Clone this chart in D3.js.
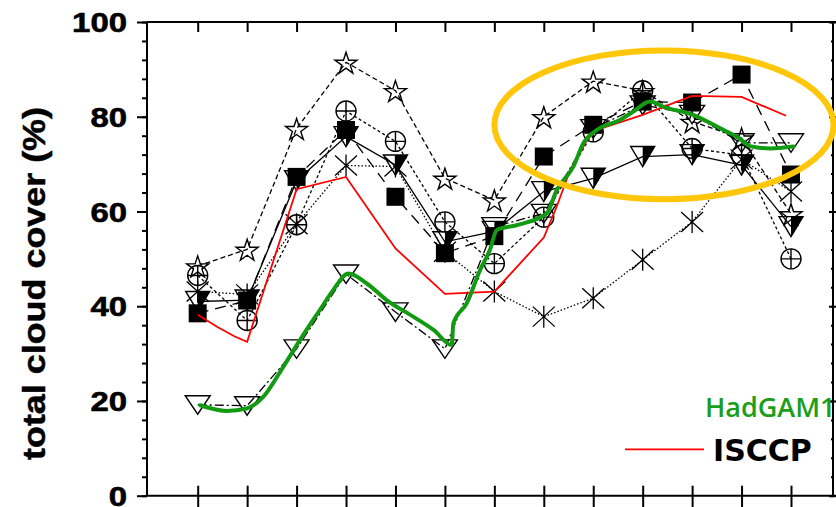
<!DOCTYPE html>
<html><head><meta charset="utf-8">
<script src="https://cdn.jsdelivr.net/npm/d3@7"></script>
<style>body{margin:0;background:#fff;} svg{display:block;}</style>
</head><body><svg id="c" width="836" height="507"></svg>
<script>
// ---------------- data ----------------
const xIndex = d3.range(13);
const yTicks = [0, 20, 40, 60, 80, 100];
const yMinorTicks = d3.range(0, 101, 4);

const starVals     = [48.5, 52, 77.5, 91.5, 85.5, 67, 62.4, 80, 87.5, 85.5, 79, 75.5, 59.5];
const oplusVals    = [46.5, 37, 57.2, 81.2, 74.8, 57.8, 49, 58.8, 76.8, 85.5, 73.3, 71.9, 50];
const squareVals   = [38.5, 41.2, 67.3, 77.2, 63.1, 51.2, 54.8, 71.6, 78.3, 83.2, 83, 88.9, 67.8];
const halfTriVals  = [41, 41.3, 66.5, 75.8, 69.8, 53.6, 55.8, 64.2, 67, 71.6, 72, 69.8, 56.8];
const asteriskVals = [43.1, 42.5, 57.3, 69.7, 69.5, 51.5, 43.1, 37.8, 41.7, 49.8, 57.8, 71, 64.2];
const openTriVals  = [19.2, 19, 31, 46.8, 38.8, 31, 56.8, 59.6, 77.5, 82.5, 80.5, 74.5, 74.5];

const isccpX = [0, 0.4, 0.75, 1, 2, 3, 4, 5, 6, 7, 7.26, 7.53, 7.87, 8.07, 9, 10, 11, 11.9];
const isccpV = [38.2, 35.6, 33.6, 32.5, 64.7, 67.3, 52.2, 42.6, 43.1, 54.5, 61, 68.7, 75, 77.2, 80.4, 84.4, 84.2, 80.2];

const hadX = [0.05, 0.59, 0.99, 1.33, 1.73, 2.07, 2.47, 2.74, 3.05, 3.42, 3.82, 4.36, 4.77, 5.14, 5.17, 5.44, 5.71, 5.91, 6.05, 6.45, 7.06, 7.26, 7.6, 7.8, 8.07, 8.54, 8.81, 9.15, 9.42, 10.02, 10.56, 10.96, 11.17, 11.58, 12.05];
const hadV = [19.1, 17.9, 18.4, 20.9, 27.2, 32.9, 39.2, 43.4, 46.9, 44.8, 41.3, 37.8, 35, 31.8, 36.4, 40.6, 47.6, 51.9, 56.1, 57.1, 59.6, 64.5, 69.5, 74.4, 77.2, 79.3, 81.1, 83.2, 82.1, 80.4, 77.6, 75.4, 73.8, 73.3, 73.7];

// highlight ellipse (data units): centre index, centre value, radius in index, radius in value
const ellipseSpec = [9.43, 78.3, 3.43, 15.7];

const legendLabels = ["HadGAM1", "ISCCP"];
const yTitle = "total cloud cover (%)";

// ---------------- layout ----------------
const svg = d3.select("#c");
const frame = {left: 147, right: 833, top: 22, bottom: 495.7};
const x = d3.scaleLinear().domain([0, 12]).range([197.7, 791]);
const y = d3.scaleLinear().domain([0, 100]).range([frame.bottom, frame.top]);

const fontTick = "'Liberation Sans', Arial, sans-serif";

// frame lines
const fr = svg.append("g").attr("stroke", "#000").attr("stroke-width", 2).attr("fill", "none");
fr.append("line").attr("x1", frame.left).attr("x2", frame.left).attr("y1", frame.top).attr("y2", frame.bottom);
fr.append("line").attr("x1", frame.left).attr("x2", 836).attr("y1", frame.top).attr("y2", frame.top);
fr.append("line").attr("x1", frame.left).attr("x2", 836).attr("y1", frame.bottom).attr("y2", frame.bottom);
fr.append("line").attr("x1", frame.right).attr("x2", frame.right).attr("y1", frame.top).attr("y2", frame.bottom);

function styleAxis(g) {
  g.select(".domain").remove();
  g.selectAll(".tick line").attr("stroke", "#000").attr("stroke-width", 2);
}

// left axis minor
svg.append("g").attr("transform", `translate(${frame.left},0)`)
  .call(d3.axisLeft(y).tickValues(yMinorTicks).tickSize(5).tickFormat(""))
  .call(styleAxis);
// left axis major
const la = svg.append("g").attr("transform", `translate(${frame.left},0)`)
  .call(d3.axisLeft(y).tickValues(yTicks).tickSize(10).tickPadding(10).tickFormat(d3.format("d")))
  .call(styleAxis);
la.selectAll("text")
  .attr("font-family", fontTick).attr("font-weight", "bold").attr("font-size", 28)
  .attr("fill", "#000").attr("stroke", "#000").attr("stroke-width", 0.6).attr("dy", "0.34em")
  .attr("textLength", d => String(d).length * 18.3).attr("lengthAdjust", "spacingAndGlyphs");

// right axis (inward ticks)
svg.append("g").attr("transform", `translate(${frame.right},0)`)
  .call(d3.axisLeft(y).tickValues(yMinorTicks).tickSize(2).tickFormat(""))
  .call(styleAxis);
svg.append("g").attr("transform", `translate(${frame.right + 3},0)`)
  .call(d3.axisLeft(y).tickValues(yTicks).tickSize(7).tickFormat(""))
  .call(styleAxis);

// top axis ticks (inward)
svg.append("g").attr("transform", `translate(0,${frame.top})`)
  .call(d3.axisBottom(x).tickValues(xIndex).tickSize(10).tickFormat(""))
  .call(styleAxis);
// bottom axis ticks (crossing)
svg.append("g").attr("transform", `translate(0,${frame.bottom})`)
  .call(d3.axisBottom(x).tickValues(xIndex).tickSize(12).tickFormat(""))
  .call(styleAxis);
svg.append("g").attr("transform", `translate(0,${frame.bottom})`)
  .call(d3.axisTop(x).tickValues(xIndex).tickSize(10).tickFormat(""))
  .call(styleAxis);

// y title
svg.append("text")
  .attr("transform", `translate(45,${(107 + 460) / 2}) rotate(-90)`)
  .attr("text-anchor", "middle")
  .attr("font-family", fontTick).attr("font-weight", "bold").attr("font-size", 31)
  .attr("stroke", "#000").attr("stroke-width", 0.5)
  .attr("textLength", 353).attr("lengthAdjust", "spacingAndGlyphs")
  .text(yTitle);

// ---------------- series ----------------
const series = [
  {vals: starVals,     dash: "5,3",        marker: "star"},
  {vals: oplusVals,    dash: "3,2.5",      marker: "oplus"},
  {vals: squareVals,   dash: "11,7",       marker: "square"},
  {vals: halfTriVals,  dash: null,         marker: "halftri"},
  {vals: asteriskVals, dash: "1.5,2",      marker: "asterisk"},
  {vals: openTriVals,  dash: "9,3,2,3",    marker: "opentri"}
];

const line = d3.line().x((d, i) => x(xIndex[i])).y(d => y(d));
const lg = svg.append("g").attr("fill", "none").attr("stroke", "#000").attr("stroke-width", 1.3);
series.forEach(s => {
  lg.append("path").attr("d", line(s.vals)).attr("stroke-dasharray", s.dash);
});

const mk = svg.append("g").attr("stroke", "#000").attr("stroke-width", 1.4);
const starPath = d3.symbol().type(d3.symbolStar).size(150)();
function drawMarker(type, cx, cy) {
  const g = mk.append("g").attr("transform", `translate(${cx},${cy})`);
  if (type === "star") {
    g.append("path").attr("d", starPath).attr("fill", "none").attr("transform", "translate(0,1.5)");
  } else if (type === "oplus") {
    g.append("circle").attr("r", 10).attr("fill", "none");
    g.append("path").attr("d", "M-10,0H10M0,-10V10").attr("fill", "none");
  } else if (type === "square") {
    g.append("rect").attr("x", -9).attr("y", -9).attr("width", 18).attr("height", 18).attr("fill", "#000").attr("stroke", "none");
  } else if (type === "halftri") {
    g.append("path").attr("d", "M0,-10L12,-10L0,10Z").attr("fill", "#000").attr("stroke", "none");
    g.append("path").attr("d", "M-12,-10L12,-10L0,10Z").attr("fill", "none");
  } else if (type === "opentri") {
    g.append("path").attr("d", "M-12.5,-9L12.5,-9L0,9.5Z").attr("fill", "none");
  } else if (type === "asterisk") {
    g.append("path").attr("d", "M0,-11V11M-11,-10L11,10M-11,10L11,-10").attr("fill", "none").attr("stroke-width", 1.3);
  }
}
series.forEach(s => {
  s.vals.forEach((v, i) => drawMarker(s.marker, x(xIndex[i]), y(v)));
});

// ISCCP red line
const lineXY = d3.line().x(d => x(d[0])).y(d => y(d[1]));
svg.append("path")
  .attr("d", lineXY(d3.zip(isccpX, isccpV)))
  .attr("fill", "none").attr("stroke", "#ff0000").attr("stroke-width", 1.8);

// HadGAM1 green curve
svg.append("path")
  .attr("d", lineXY.curve(d3.curveMonotoneX)(d3.zip(hadX, hadV)))
  .attr("fill", "none").attr("stroke", "#129a12").attr("stroke-width", 4)
  .attr("stroke-linejoin", "round").attr("stroke-linecap", "round");

// highlight ellipse
svg.append("ellipse")
  .attr("cx", x(ellipseSpec[0])).attr("cy", y(ellipseSpec[1]))
  .attr("rx", x(ellipseSpec[0] + ellipseSpec[2]) - x(ellipseSpec[0]))
  .attr("ry", y(ellipseSpec[1] - ellipseSpec[3]) - y(ellipseSpec[1]))
  .attr("fill", "none").attr("stroke", "#ffc60a").attr("stroke-width", 6);

// legend
svg.append("text").attr("x", 705).attr("y", 417)
  .attr("font-family", "'Open Sans', sans-serif").attr("font-weight", 600).attr("font-size", 27)
  .attr("fill", "#1b9e1b").text(legendLabels[0]);
svg.append("line").attr("x1", 625).attr("x2", 704).attr("y1", 449.3).attr("y2", 449.3)
  .attr("stroke", "#ff0000").attr("stroke-width", 1.8);
svg.append("text").attr("x", 713).attr("y", 460.7)
  .attr("font-family", "'DejaVu Sans', sans-serif").attr("font-weight", "bold").attr("font-size", 30)
  .attr("fill", "#000").text(legendLabels[1]);
</script>
</body></html>
